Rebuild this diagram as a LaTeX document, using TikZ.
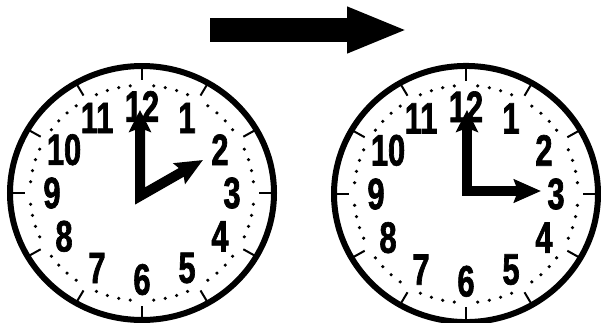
\documentclass[tikz,border=0pt]{standalone}
\usepackage{fontspec}
\newfontfamily\dialfont[FakeStretch=0.7,FakeBold=1.5]{Liberation Sans}
\usetikzlibrary{arrows.meta}
\tikzset{
    rim/.style = {line width=6pt},
    hourtick/.style = {line width=2pt},
    numeral/.style = {font=\dialfont\bfseries\fontsize{44}{44}\selectfont, inner sep=0pt},
    hands/.style = {line width=10pt, line join=miter, {Stealth[length=22pt,width=22pt,inset=4pt]}-{Stealth[length=27pt,width=23pt,inset=4pt]}},
    bigarrow/.style = {line width=24pt, -{Triangle[length=61pt,width=42pt]}}
}
% dial: rim, hour ticks, minute dots and numerals
\newcommand{\clockdial}{%
    \draw [rim] (0,0) circle (132);
    \foreach \h in {1,...,12} {
        \draw [hourtick] (-90+\h*30:132) -- (-90+\h*30:117);
        \node [numeral] (n\h) at (-90+\h*30:90) {\h};
    }
    \foreach \m in {0,...,59} {
        \pgfmathtruncatemacro{\r}{mod(\m,5)}
        \ifnum\r>0 \fill (-90+\m*6:112) circle (1.8); \fi
    }
}

\begin{document}
\begin{tikzpicture}[x=1pt, y=-1pt]
    \useasboundingbox (0,0) rectangle (601,322);
    \clip (0,0) rectangle (601,322);

    % Arrow between the clocks
    \coordinate (start) at (210,30);
    \coordinate (end) at (408,30);
    \draw [bigarrow] (start) -- (end);

    % Clock before
    \begin{scope}[shift={(142,193)}, yscale=0.962]
        \clockdial
    \end{scope}
    \coordinate (pivotA) at (140,196);
    \coordinate (minuteA) at (140,110);
    \coordinate (hourA) at (203,160);
    \draw [hands] (minuteA) -- (pivotA) -- (hourA);

    % Clock after
    \begin{scope}[shift={(466,194)}, yscale=0.97]
        \clockdial
    \end{scope}
    \coordinate (pivotB) at (467,191);
    \coordinate (minuteB) at (467,110);
    \coordinate (hourB) at (541,191);
    \draw [hands] (minuteB) -- (pivotB) -- (hourB);
\end{tikzpicture}
\end{document}
